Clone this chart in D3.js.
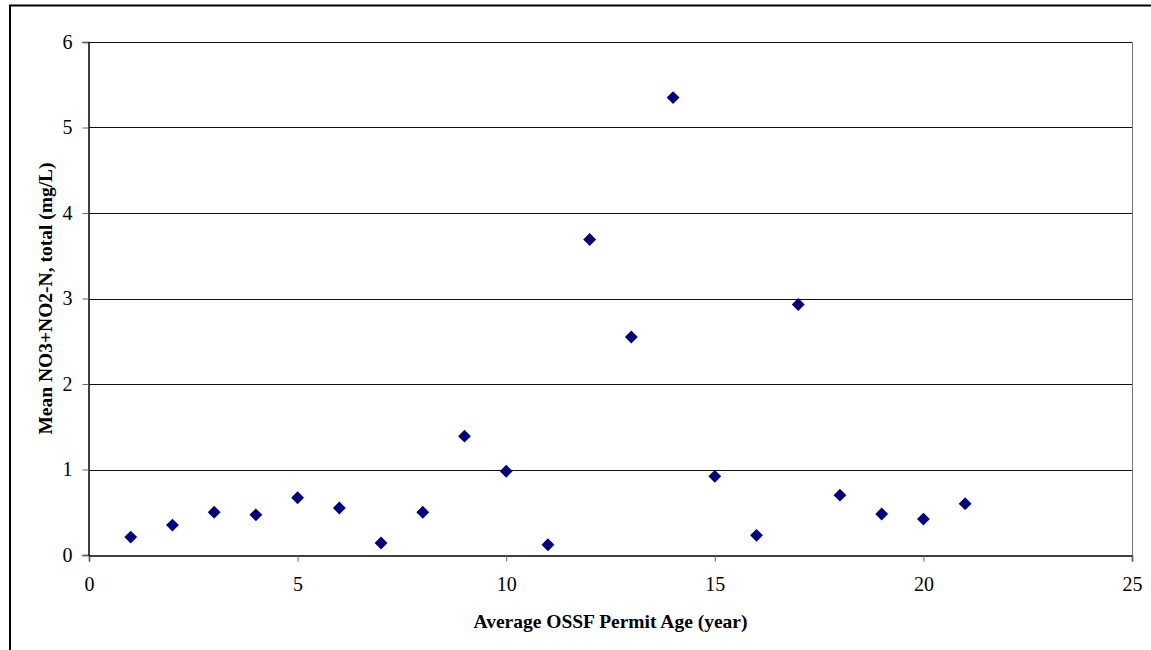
<!DOCTYPE html>
<html>
<head>
<meta charset="utf-8">
<script src="https://cdn.jsdelivr.net/npm/d3@7"></script>
<style>
  body { margin: 0; background: #fff; }
  svg text { font-family: 'Liberation Serif', 'DejaVu Serif', serif; }
</style>
</head>
<body>
<svg id="chart" width="1151" height="650"></svg>
<script>
// permit age (years) and mean nitrate+nitrite (mg/L)
let permitAge = [1, 2, 3, 4, 5, 6, 7, 8, 9, 10, 11, 12, 13, 14, 15, 16, 17, 18, 19, 20, 21];
let meanNitrate = [0.21, 0.35, 0.50, 0.47, 0.67, 0.55, 0.14, 0.50, 1.39, 0.98, 0.12, 3.69, 2.55, 5.35, 0.92, 0.23, 2.93, 0.70, 0.48, 0.42, 0.60];
let xTicks = [0, 5, 10, 15, 20, 25];
let yTicks = [0, 1, 2, 3, 4, 5, 6];

let chartParams = {
  marginLeft: 89,
  marginTop: 42,
  plotRight: 1132,
  plotBottom: 555
};

let svg = d3.select('#chart');

// outer frame
svg.append('path')
  .attr('d', 'M10,650 L10,5.5 L1151,5.5')
  .attr('fill', 'none')
  .attr('stroke', '#000')
  .attr('stroke-width', 2);

let x = d3.scaleLinear()
  .domain([0, 25])
  .range([chartParams.marginLeft, chartParams.plotRight]);

let y = d3.scaleLinear()
  .domain([0, 6])
  .range([chartParams.plotBottom, chartParams.marginTop]);

// gridlines
svg.append('g')
  .attr('class', 'grid')
  .selectAll('line')
  .data(yTicks.slice(1))
  .enter()
  .append('line')
  .attr('x1', x(0))
  .attr('x2', x(25))
  .attr('y1', function (d) { return Math.round(y(d)) + 0.5; })
  .attr('y2', function (d) { return Math.round(y(d)) + 0.5; })
  .attr('stroke', '#111')
  .attr('stroke-width', 1);

// right border of plot
svg.append('line')
  .attr('x1', Math.round(x(25)) + 0.5)
  .attr('x2', Math.round(x(25)) + 0.5)
  .attr('y1', y(6))
  .attr('y2', y(0))
  .attr('stroke', '#777')
  .attr('stroke-width', 1);

let xAxis = d3.axisBottom(x)
  .tickValues(xTicks)
  .tickSize(6)
  .tickPadding(15)
  .tickFormat(d3.format('d'));

let yAxis = d3.axisLeft(y)
  .tickValues(yTicks)
  .tickSize(6)
  .tickPadding(10)
  .tickFormat(d3.format('d'));

let xAxisG = svg.append('g')
  .attr('class', 'x-axis')
  .attr('transform', 'translate(0,' + (chartParams.plotBottom + 0.5) + ')')
  .call(xAxis);

let yAxisG = svg.append('g')
  .attr('class', 'y-axis')
  .attr('transform', 'translate(' + (chartParams.marginLeft - 0.5) + ',0)')
  .call(yAxis);

[xAxisG, yAxisG].forEach(function (g) {
  g.attr('font-family', null).attr('font-size', null);
  g.select('.domain').attr('stroke', '#000').attr('stroke-width', 1.5);
  g.selectAll('.tick line').attr('stroke', '#666');
  g.selectAll('.tick text')
    .attr('fill', '#000')
    .style('font-size', '20px');
});

// points
let diamond = d3.symbol().type(d3.symbolDiamond2).size(105);

svg.append('g')
  .attr('class', 'points')
  .selectAll('path')
  .data(permitAge)
  .enter()
  .append('path')
  .attr('d', diamond)
  .attr('transform', function (d, i) {
    return 'translate(' + x(d) + ',' + y(meanNitrate[i]) + ')';
  })
  .attr('fill', '#000080');

// axis titles
svg.append('text')
  .attr('x', (x(0) + x(25)) / 2)
  .attr('y', 628)
  .attr('text-anchor', 'middle')
  .style('font-size', '19.5px')
  .style('font-weight', 'bold')
  .text('Average OSSF Permit Age (year)');

svg.append('text')
  .attr('transform', 'translate(52,' + (y(3)) + ') rotate(-90)')
  .attr('text-anchor', 'middle')
  .style('font-size', '19.5px')
  .style('font-weight', 'bold')
  .text('Mean NO3+NO2-N, total (mg/L)');
</script>
</body>
</html>
